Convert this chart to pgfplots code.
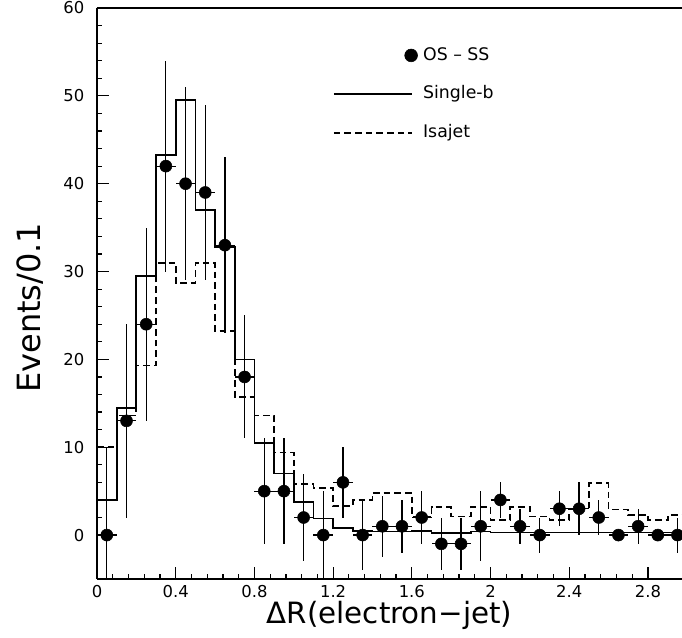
\documentclass[border=0pt]{standalone}
\usepackage{fontspec}
\setmainfont{DejaVu Sans}
\usepackage{pgfplots}
\pgfplotsset{compat=1.18}
\usetikzlibrary{calc}

\begin{document}
\begin{tikzpicture}
\begin{axis}[
  name=ax,
  scale only axis,
  width=438.75pt, height=428.25pt,
  xmin=0, xmax=2.973, ymin=-5, ymax=60,
  axis x line*=box, axis y line*=left,
  axis line style={-, line width=1.2pt},
  y axis line style={-},
  xtick={0,0.4,0.8,1.2,1.6,2,2.4,2.8},
  ytick={0,10,20,30,40,50,60},
  minor x tick num=4, minor y tick num=4,
  xtick pos=bottom, ytick pos=left,
  tick align=inside,
  major tick length=9pt, minor tick length=4pt,
  every tick/.style={black, line width=0.9pt},
  /pgf/number format/assume math mode=true,
  tick label style={font=\fontsize{12.3}{14}\selectfont},
  yticklabel style={xshift=-6pt},
  xticklabel style={yshift=-1pt},
  xlabel={ΔR(electron−jet)},
  ylabel={Events/0.1},
  every axis x label/.style={at={(axis description cs:0.5,-0.063)}, anchor=center, font=\fontsize{22}{26}\selectfont},
  every axis y label/.style={at={(axis description cs:-0.115,0.475)}, rotate=90, anchor=center, font=\fontsize{24}{28}\selectfont},
  legend image code/.code={\path[draw=none] (0pt,0pt) -- (63pt,0pt); \draw[#1] (0pt,0pt) -- (59pt,0pt);},
  legend cell align=left,
  legend style={draw=none, fill=none, at={(axis cs:1.199,50.2)}, anchor=west,
    inner sep=0pt, outer sep=0pt, row sep=14pt, column sep=3pt,
    font=\fontsize{13}{15}\selectfont,
    nodes={inner sep=1pt, text height=10pt, text depth=3pt}},
]

% OS - SS data with statistical errors; horizontal bars span the bin
\addplot[only marks, mark=*, mark size=4.5pt, black,
  legend image code/.code={\path[draw=none] (0pt,0pt) -- (63pt,0pt); \fill[black] (58pt,0pt) circle (4.8pt);},
  error bars/.cd, x dir=both, x explicit, y dir=both, y explicit,
  error mark=none, error bar style={line width=0.9pt, black}]
coordinates {
  (0.05,0)  += (0.05,10) -= (0.05,5)
  (0.15,13) +- (0.05,11)
  (0.25,24) +- (0.05,11)
  (0.35,42) +- (0.05,12)
  (0.45,40) +- (0.05,11)
  (0.55,39) +- (0.05,10)
  (0.65,33) +- (0.05,10)
  (0.75,18) +- (0.05,7)
  (0.85,5)  +- (0.05,6)
  (0.95,5)  +- (0.05,6)
  (1.05,2)  +- (0.05,5)
  (1.15,0)  +- (0.05,5)
  (1.25,6)  +- (0.05,4)
  (1.35,0)  +- (0.05,4)
  (1.45,1)  +- (0.05,3.5)
  (1.55,1)  +- (0.05,3)
  (1.65,2)  +- (0.05,3)
  (1.75,-1) +- (0.05,3)
  (1.85,-1) +- (0.05,3)
  (1.95,1)  +- (0.05,4)
  (2.05,4)  +- (0.05,2)
  (2.15,1)  +- (0.05,2)
  (2.25,0)  +- (0.05,2)
  (2.35,3)  +- (0.05,2)
  (2.45,3)  +- (0.05,3)
  (2.55,2)  +- (0.05,2)
  (2.65,0)  +- (0.05,0)
  (2.75,1)  +- (0.05,2)
  (2.85,0)  +- (0.05,0)
  (2.95,0)  +- (0.05,2)
};
\addlegendentry{OS -- SS}

% Single-b expectation (bin left edges)
\addplot[const plot, black, line width=1.3pt] coordinates {
  (0.0,4) (0.1,14.5) (0.2,29.5) (0.3,43.3) (0.4,49.5) (0.5,37) (0.6,32.8)
  (0.7,20) (0.8,10.5) (0.9,7) (1.0,3.8) (1.1,1.9) (1.2,0.8) (1.3,0.5)
  (1.4,0.4) (1.5,0.4) (1.6,0.5) (1.7,0.2) (1.8,0.2) (1.9,0.4) (2.0,0.3)
  (2.1,0.3) (2.2,0.3) (2.3,0.3) (2.4,0.3) (2.5,0.3) (2.6,0.3) (2.7,0.3)
  (2.8,0.3) (2.9,0.3) (3.0,0.3)
};
\addlegendentry{Single-b}

% Isajet expectation (bin left edges)
\addplot[const plot, black, line width=1.3pt, dash pattern=on 5pt off 3pt] coordinates {
  (0.0,10) (0.1,13.6) (0.2,19.3) (0.3,31) (0.4,28.7) (0.5,31) (0.6,23.2)
  (0.7,15.7) (0.8,13.6) (0.9,9.4) (1.0,5.8) (1.1,5.4) (1.2,3.3) (1.3,4)
  (1.4,4.8) (1.5,4.8) (1.6,2.1) (1.7,3.2) (1.8,2.1) (1.9,3.2) (2.0,1.7)
  (2.1,3.2) (2.2,2.1) (2.3,1.7) (2.4,3.0) (2.5,5.9) (2.6,2.9) (2.7,2.3)
  (2.8,1.7) (2.9,2.3) (3.0,2.3)
};
\addlegendentry{Isajet}

\end{axis}
\pgfresetboundingbox
\path[use as bounding box] ($(ax.south west)+(-72.75pt,-44.25pt)$) rectangle ($(ax.north east)+(0pt,6pt)$);
\end{tikzpicture}
\end{document}
